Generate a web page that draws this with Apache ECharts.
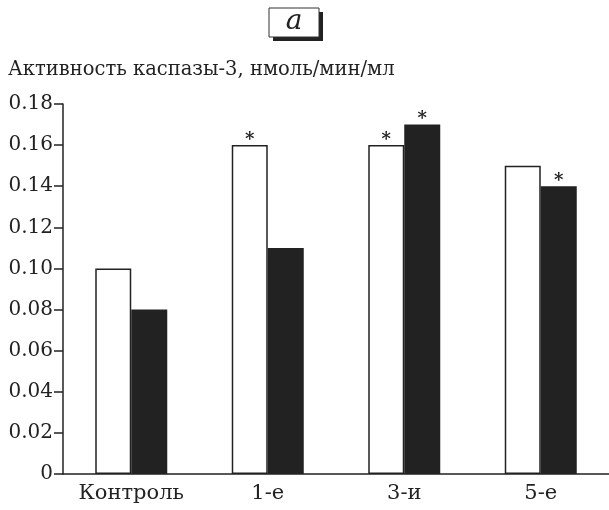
<!DOCTYPE html>
<html><head><meta charset="utf-8">
<script src="https://cdn.jsdelivr.net/npm/echarts@6/dist/echarts.min.js"></script>
<style>html,body{margin:0;padding:0;background:#fff}#c{width:609px;height:510px}</style>
</head><body><div id="c"></div>
<script>
const categories = ['Контроль', '1-е', '3-и', '5-е'];
const whiteValues = [0.10, 0.16, 0.16, 0.15];
const blackValues = [0.08, 0.11, 0.17, 0.14];
const whiteStars = [false, true, true, false];
const blackStars = [false, false, true, true];
const yTicks = ['0', '0.02', '0.04', '0.06', '0.08', '0.10', '0.12', '0.14', '0.16', '0.18'];
const yName = 'Активность каспазы-3, нмоль/мин/мл';
const panelLabel = 'а';

const FONT = 'DejaVu Serif';
const chart = echarts.init(document.getElementById('c'));
function mk(vals, stars) {
  return vals.map((v, i) => ({
    value: v,
    label: { show: stars[i], position: 'top', formatter: '*', fontSize: 18, fontWeight: 'bold', color: '#222', fontFamily: FONT, distance: -4 }
  }));
}
chart.setOption({
  animation: false,
  graphic: [
    { type: 'rect', shape: { x: 273, y: 12, width: 50, height: 29 }, style: { fill: '#222' } },
    { type: 'rect', shape: { x: 269, y: 8, width: 50, height: 29 }, style: { fill: '#fff', stroke: '#333', lineWidth: 1 } },
    { type: 'text', x: 294, y: 22, style: { text: panelLabel, font: 'italic 28px ' + FONT, fill: '#222', textAlign: 'center', textVerticalAlign: 'middle' } },
    { type: 'text', left: 8, top: 60, style: { text: yName, font: '19.5px ' + FONT, fill: '#222' } }
  ],
  grid: { left: 63, right: -4, top: 104, bottom: 36, containLabel: false },
  xAxis: {
    type: 'category', data: categories,
    axisLine: { lineStyle: { color: '#222', width: 1.5 } },
    axisTick: { show: false },
    axisLabel: { interval: 0, fontFamily: FONT, fontSize: 21, color: '#222', margin: 9 }
  },
  yAxis: {
    type: 'value', min: 0, max: 0.18, interval: 0.02,
    axisLine: { show: true, lineStyle: { color: '#222', width: 1.5 } },
    axisTick: { show: true, length: 9, lineStyle: { color: '#222', width: 1.5 } },
    splitLine: { show: false },
    axisLabel: { fontFamily: FONT, fontSize: 20, color: '#222', margin: 10,
      formatter: (v) => yTicks[Math.round(v / 0.02)] }
  },
  series: [
    { type: 'bar', data: mk(whiteValues, whiteStars), barWidth: 36, barGap: '0%',
      itemStyle: { color: '#fff', borderColor: '#222', borderWidth: 1.5 } },
    { type: 'bar', data: mk(blackValues, blackStars), barWidth: 36, barGap: '0%',
      itemStyle: { color: '#222', borderColor: '#222', borderWidth: 1.5 } }
  ]
});
</script></body></html>
